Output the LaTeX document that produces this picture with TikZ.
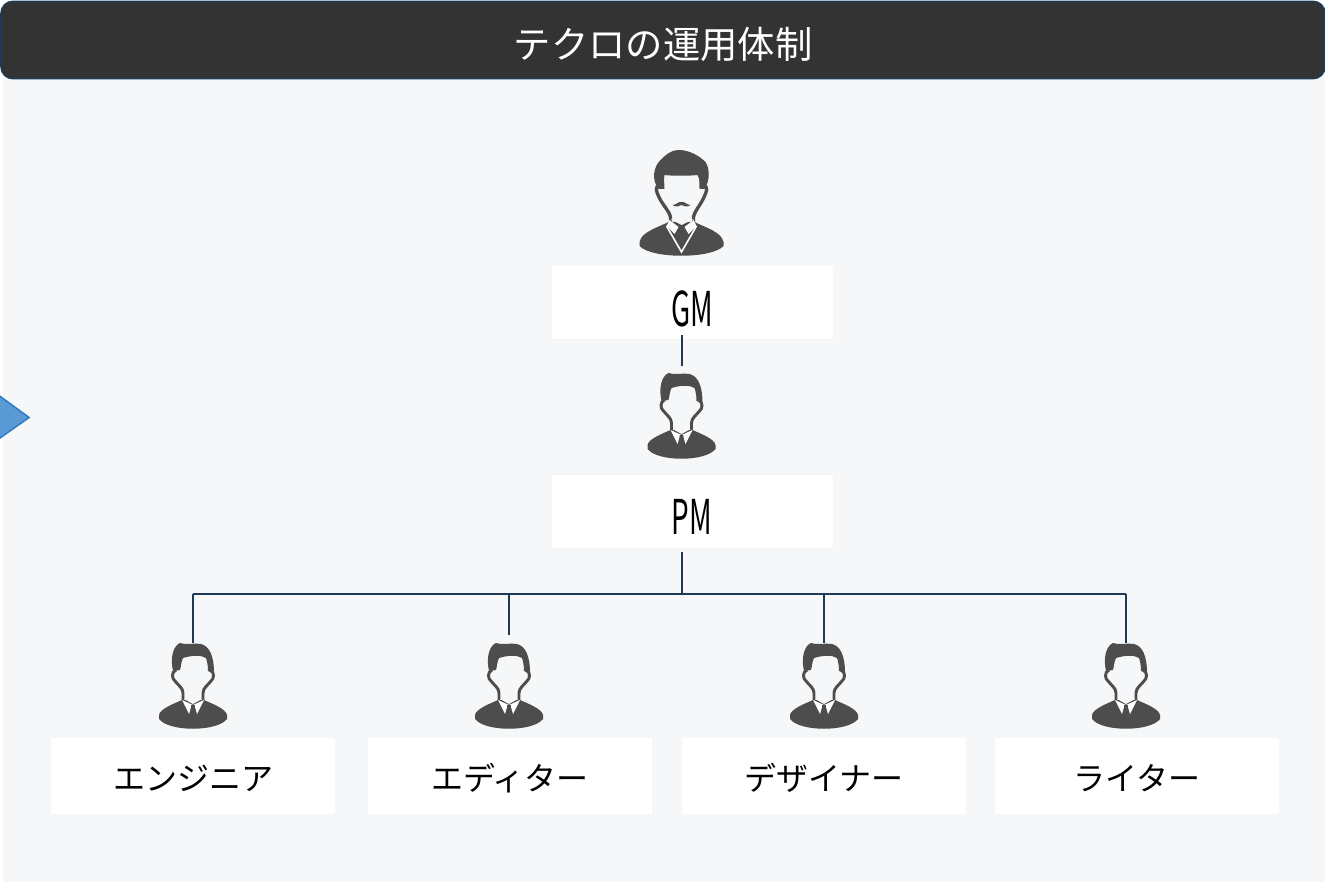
\documentclass[tikz,border=0pt]{standalone}
\usepackage{fontspec}
\newfontfamily\jpfont{Noto Sans CJK JP}
\newfontfamily\narrowfont[FakeStretch=0.58]{Noto Sans CJK JP}
\usetikzlibrary{positioning}
\definecolor{panelbg}{HTML}{F5F7F9}
\definecolor{iconcol}{HTML}{4D4D4D}
\definecolor{linecol}{HTML}{1F3A56}
\definecolor{titlecol}{HTML}{333333}
\definecolor{arrowfill}{HTML}{5B9BD5}
\definecolor{arrowline}{HTML}{2E7DC8}
\tikzset{
  rolebox/.style={fill=white,minimum width=213pt,minimum height=57pt,inner sep=0pt,text=black,text height=22pt,text depth=0pt},
  topbox/.style={rolebox,draw=black!4,line width=.75pt,minimum width=211.5pt,minimum height=55.5pt,text height=35pt,font=\narrowfont\fontsize{36}{36}\selectfont},
  link/.style={draw=linecol,line width=1.5pt},
  personicon/.pic={
    % ears and neck
    \draw[iconcol,line width=2.2pt] (-17,27) .. controls (-22,29) and (-21,36) .. (-18,38) .. controls (-15,42) and (-10,45) .. (-10,50) -- (-10,58);
    \draw[iconcol,line width=2.2pt] (17,27) .. controls (22,29) and (21,36) .. (18,38) .. controls (15,42) and (10,45) .. (10,50) -- (10,58);
    % hair
    \fill[iconcol] (-20,28) .. controls (-23,15) and (-20,3) .. (-13,0) .. controls (-8,2) and (0,0) .. (8,1) .. controls (16,3) and (21,12) .. (21,30) -- (15,28) .. controls (15,22) and (14,18) .. (13,15) .. controls (8,12) and (0,12) .. (-10,15) .. controls (-12,19) and (-12,24) .. (-13,27) -- cycle;
    % body
    \fill[iconcol] (-34,72) .. controls (-33,66) and (-20,61) .. (-11,57) -- (11,57) .. controls (20,61) and (33,66) .. (34,72) -- (34,76) .. controls (24,89) and (-24,89) .. (-34,76) -- cycle;
    \fill[white] (-11,57) -- (-4,71) -- (-2,64) -- (2,64) -- (4,71) -- (11,57) -- (0,62) -- cycle;
    \fill[panelbg] (-9,56) -- (0,61) -- (9,56) -- cycle;
    \fill[iconcol] (-2,62) -- (2,62) -- (1.5,71) -- (0,74) -- (-1.5,71) -- cycle;
  },
  gmicon/.pic={
    \draw[iconcol,line width=2.5pt] (-22,36) .. controls (-27,36) and (-25,42) .. (-23,46) .. controls (-20,54) and (-11,62) .. (-11,68) -- (-11,73);
    \draw[iconcol,line width=2.5pt] (22,36) .. controls (27,36) and (25,42) .. (23,46) .. controls (20,54) and (12,62) .. (12,68) -- (12,73);
    \fill[iconcol] (-23,39) .. controls (-30,30) and (-28,18) .. (-22,11) .. controls (-15,4) and (-10,0) .. (-3,0) .. controls (8,0) and (18,6) .. (24,12) .. controls (28,18) and (29,30) .. (23,39) -- (18,39) .. controls (18,32) and (18,28) .. (16,25) .. controls (8,26) and (-10,26) .. (-17,25) .. controls (-18,30) and (-17,34) .. (-17,39) -- cycle;
    % moustache
    \fill[iconcol] (-9,55) .. controls (-5,55) and (-3,51) .. (0,52) .. controls (3,51) and (5,55) .. (9,55) .. controls (5,58) and (3,56) .. (0,55) .. controls (-3,56) and (-5,58) .. (-9,55) -- cycle;
    % body
    \fill[iconcol] (-42,92) .. controls (-40,82) and (-25,78) .. (-13,72) -- (13,72) .. controls (25,78) and (40,82) .. (42,92) -- (42,96) .. controls (30,109) and (-30,109) .. (-42,96) -- cycle;
    \draw[white,line width=1.2pt] (-15,76) -- (0,102) -- (15,76);
    \fill[white] (-12,70) -- (-3,77) -- (-7,84) -- (-15,76) -- cycle;
    \fill[white] (12,70) -- (3,77) -- (7,84) -- (15,76) -- cycle;
    \fill[panelbg] (-11,69) -- (0,75) -- (12,69) -- cycle;
    \fill[iconcol] (-3,77) -- (3,77) -- (3,90) -- (0,96) -- (-3,90) -- cycle;
  }
}
\begin{document}
\begin{tikzpicture}[x=.75pt,y=-.75pt]
\useasboundingbox (0,0) rectangle (1325,884);
\fill[white] (0,0) rectangle (1325,884);
\fill[panelbg] (3,40) rectangle (1325,882);
% arrow cut by the page edge
\draw[draw=arrowline,fill=arrowfill,line width=1.2pt] (-10,389) -- (29,417.5) -- (-10,445) -- cycle;
\node[name=titlebar,draw=linecol,fill=titlecol,rounded corners=9pt,line width=1.2pt,minimum width=993pt,minimum height=58pt,inner sep=0pt,text=white,text height=28.5pt,text depth=0pt,font=\jpfont\fontsize{28}{30}\selectfont] at (663,40) {テクロの運用体制};

\node[topbox] (GMbox) at (692,303) {GM};
\node[topbox] (PMbox) at (692,511) {PM};
\pic at (681.5,150) {gmicon};
\pic at (681.5,373) {personicon};
\coordinate (GMout) at (682,335);
\coordinate (PMin) at (682,366);
\draw[link] (GMout) -- (PMin);

% tree below the PM
\coordinate (PMout) at (682,552);
\coordinate (busmid) at (682,593.5);
\coordinate (busleft) at (193,593.5);
\coordinate (busright) at (1126,593.5);
\draw[link] (PMout) -- (busmid);
\draw[link] (busleft) -- (busright);
\foreach \iconx/\boxx/\dropy/\boxname/\role in {193/193/643/engbox/エンジニア,509/510/635/edbox/エディター,824/824/643/desbox/デザイナー,1126/1137/643/wrbox/ライター}{
  \coordinate (\boxname top) at (\iconx,593.5);
  \coordinate (\boxname drop) at (\iconx,\dropy);
  \draw[link] (\boxname top) -- (\boxname drop);
  \pic at (\iconx,643) {personicon};
  \node[rolebox,font=\jpfont\fontsize{24}{26}\selectfont] (\boxname) at (\boxx,776) {\role};
}
\end{tikzpicture}
\end{document}
